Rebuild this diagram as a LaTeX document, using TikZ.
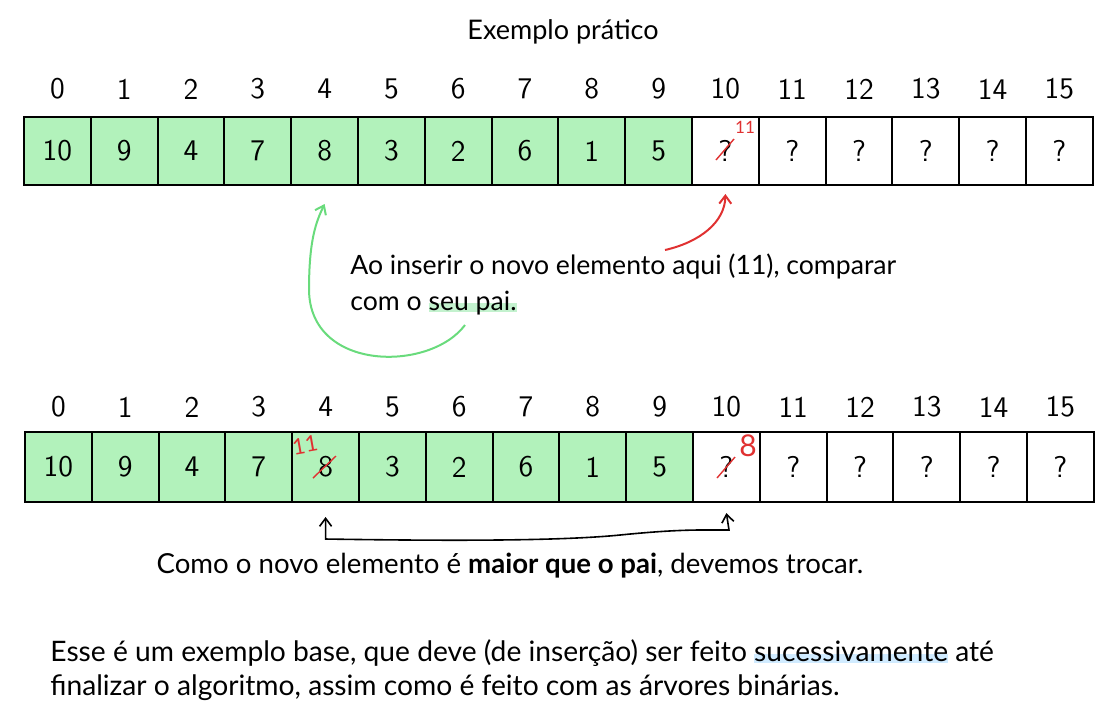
\documentclass[tikz,border=0pt]{standalone}
\usepackage{fontspec}
\setmainfont{Lato}
\usetikzlibrary{arrows.meta}

\definecolor{cellgreen}{HTML}{B2F2BB}
\definecolor{arrowgreen}{HTML}{69DB7C}
\definecolor{penred}{HTML}{E03131}
\definecolor{hlgreen}{HTML}{C3F2CE}
\definecolor{hlblue}{HTML}{D0EBFF}

\newsavebox\hlbox
\newcommand\hlmark[2]{\sbox\hlbox{#2}\rlap{\textcolor{#1}{\rule[-1.2pt]{\wd\hlbox}{4.5pt}}}\usebox\hlbox}

\begin{document}
\begin{tikzpicture}[x=0.5pt,y=-0.5pt,
  >={Straight Barb[length=4pt,width=6pt]},
  cellbox/.style={draw=black,line width=1pt,minimum width=33.4pt,inner sep=0pt,font=\sffamily\fontsize{15}{15}\selectfont},
  idx/.style={font=\sffamily\fontsize{15}{15}\selectfont},
  hand/.style={font=\fontsize{#1}{16}\selectfont,inner sep=0pt},
  hand/.default=13,
  pen/.style={penred,line width=0.7pt},
  note/.style={text=penred,inner sep=0pt}]
\useasboundingbox (0,0) rectangle (1117,720);

\node[hand=13.5] (title) at (563,32) {Exemplo prático};

% array before the swap
\foreach \v [count=\i from 0] in {10,9,4,7,8,3,2,6,1,5,?,?,?,?,?,?} {
  \ifnum\i<10 \def\bg{cellgreen}\else\def\bg{white}\fi
  \node[cellbox,minimum height=34pt,fill=\bg] (a\i) at (57.4+66.8*\i,151) {\v};
  \node[idx] (ia\i) at (57.4+66.8*\i,89) {\i};
}

% array after the swap
\foreach \v [count=\i from 0] in {10,9,4,7,8,3,2,6,1,5,?,?,?,?,?,?} {
  \ifnum\i<10 \def\bg{cellgreen}\else\def\bg{white}\fi
  \node[cellbox,minimum height=35pt,fill=\bg] (b\i) at (58.4+66.8*\i,467) {\v};
  \node[idx] (ib\i) at (58.4+66.8*\i,407) {\i};
}

% red pen marks
\draw[pen] (716,160) -- (734,139);
\node[note,font=\fontsize{8.5}{8.5}\selectfont] (n11a) at (745,127) {11};
\draw[pen] (313,478) -- (336,456);
\node[note,font=\fontsize{11}{11}\selectfont,rotate=10] (n11b) at (305,445) {11};
\draw[pen] (717,478) -- (735,457);
\node[note,font=\fontsize{15}{15}\selectfont] (n8) at (748,446) {8};

% texts
\node[hand=13.3,anchor=base west] (ins1) at (350,274) {Ao inserir o novo elemento aqui (11), comparar};
\node[hand=13.3,anchor=base west] (ins2) at (350,310) {com o \hlmark{hlgreen}{seu pai.}};
\node[hand=13.8,anchor=base] (swap) at (510,573) {Como o novo elemento é \textbf{maior que o pai}, devemos trocar.};
\node[hand=14.1,anchor=base west] (end1) at (50,661) {Esse é um exemplo base, que deve (de inserção) ser feito \hlmark{hlblue}{sucessivamente} até};
\node[hand=14.1,anchor=base west] (end2) at (50,695) {finalizar o algoritmo, assim como é feito com as árvores binárias.};

% arrows
\coordinate (g0) at (465,325);
\coordinate (r0) at (665,250);
\draw[arrowgreen,line width=1pt,->] (g0) .. controls (430,372) and (310,372) .. (309,290)
  .. controls (309,240) and (316,222) .. ([yshift=-9pt]a4.south);
\draw[penred,line width=1pt,->] (r0) .. controls (700,242) and (725,222) .. ([yshift=-4pt]a10.south);
\draw[line width=0.8pt,<->] ([yshift=-7pt]b4.south) -- ++(0,22)
  .. controls (450,541) and (560,541) .. (620,535)
  .. controls (680,529) and (700,530) .. (729,530) -- ([yshift=-5pt]b10.south);
\end{tikzpicture}
\end{document}
